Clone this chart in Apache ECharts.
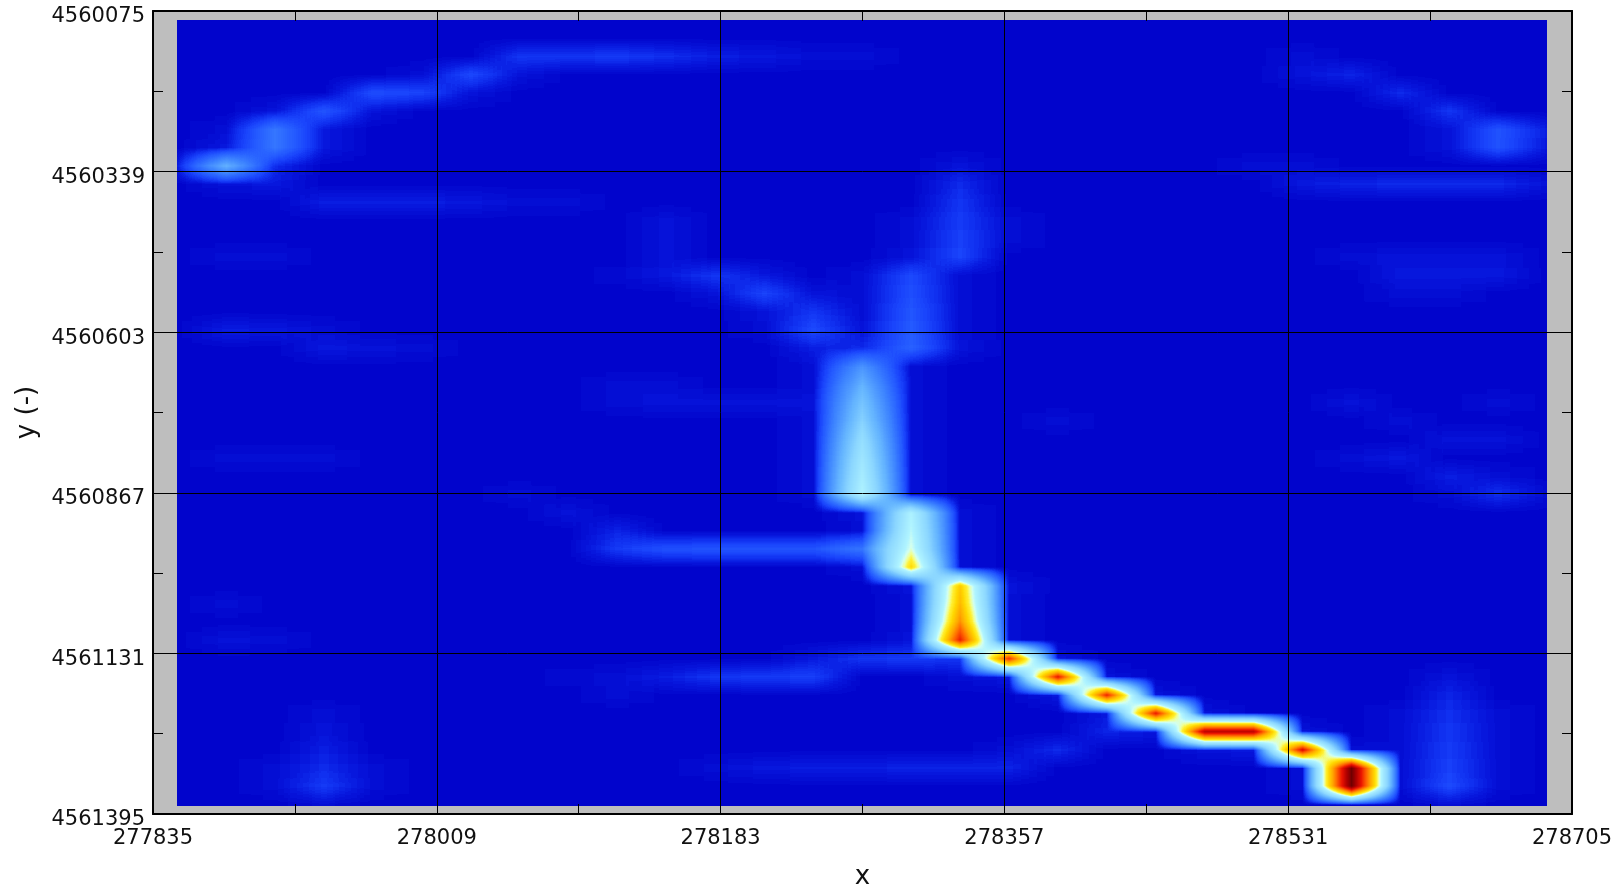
<!DOCTYPE html>
<html><head><meta charset="utf-8">
<style>
html,body{margin:0;padding:0;background:#fff;width:1620px;height:887px;overflow:hidden}
#panel{position:absolute;left:153px;top:11px;width:1419px;height:803px;background:#bebebe}
#main{position:absolute;left:0;top:0;width:1620px;height:887px}
#main canvas[data-zr-dom-id="zr_0"]{background:#000;filter:url(#heat);clip-path:inset(20px 73px 81px 177px)}
</style>
<script src="https://cdn.jsdelivr.net/npm/echarts@6/dist/echarts.min.js"></script>
</head><body>
<svg width="0" height="0" style="position:absolute"><defs>
<filter id="heat" x="0" y="0" width="100%" height="100%" color-interpolation-filters="sRGB">
<feConvolveMatrix id="boxX" order="49,1" preserveAlpha="true" edgeMode="duplicate"/>
<feConvolveMatrix id="boxY" order="1,19" preserveAlpha="true" edgeMode="duplicate"/>
<feComponentTransfer><feFuncR id="fr" type="table"/><feFuncG id="fg" type="table"/><feFuncB id="fb" type="table"/></feComponentTransfer>
</filter></defs></svg>
<div id="panel"></div><div id="main"></div>
<script>
const xNodes=[277850,277880,277910,277940,277970,278000,278030,278060,278090,278120,278150,278180,278210,278240,278270,278300,278330,278360,278390,278420,278450,278480,278510,278540,278570,278600,278630,278660,278690];
const yNodes=[4560090,4560120,4560150,4560180,4560210,4560240,4560270,4560300,4560330,4560360,4560390,4560420,4560450,4560480,4560510,4560540,4560570,4560600,4560630,4560660,4560690,4560720,4560750,4560780,4560810,4560840,4560870,4560900,4560930,4560960,4560990,4561020,4561050,4561080,4561110,4561140,4561170,4561200,4561230,4561260,4561290,4561320,4561350,4561380];
const backgroundLevel=0.2;
// [column, row, level]
const arcLeft=[[0,8,2.5],[1,8,20],[2,8,3],[1,7,2],[1,9,1.5],[2,7,10.5],[2,6,10.5],[1,6,1.2],[3,6,2],[3,7,2],[3,5,6.6],[2,5,1.5],[4,4,5.8],[4,5,1.5],[5,4,5],[6,3,5.4],[6,4,1.5],[5,3,1.2],[7,2,4.1],[7,3,1.5],[8,2,4.1],[9,2,4.4],[10,2,3.5],[11,2,2.5],[12,2,2],[13,2,1.2],[14,2,1],[2,9,2],[3,10,2.2],[4,10,2.2],[5,10,2.2],[6,10,2],[7,10,1.2],[8,10,1]];
const arcRight=[[23,2,1],[23,3,1.5],[24,3,2.8],[25,4,3.1],[26,5,3.8],[27,6,6.2],[27,7,6.2],[26,6,1.5],[26,7,1.5],[28,6,2.2],[28,7,2],[22,8,1],[23,8,1.2],[23,9,2],[24,9,2.8],[25,9,3.1],[26,9,3.1],[27,9,3.1],[28,9,1.5],[24,13,1.2],[25,13,1.5],[26,13,1.5],[27,13,1.5],[25,14,2],[26,14,2],[27,14,2],[25,15,1.2],[26,15,1.2]];
const faintLeft=[[1,13,1.2],[2,13,1],[1,17,2.2],[2,17,1.8],[3,17,1],[3,18,2],[4,18,1.6],[5,18,1],[1,24,1.2],[2,24,1.2],[3,24,1],[1,32,1.2],[1,34,1.5],[2,34,1.2],[3,38,1],[3,39,1.5],[3,40,2.2],[3,41,3.1],[3,42,4.4],[2,42,1.2],[4,42,1.2],[3,43,1],[2,41,1],[4,41,1]];
const faintRight=[[24,21,1.5],[25,22,1.2],[26,23,1.5],[27,23,1.5],[27,21,1.2],[24,24,1.2],[25,24,2],[26,25,2.2],[26,26,1.2],[27,26,3.5],[28,26,1],[27,25,1.2],[26,36,1.5],[26,37,2.8],[26,38,3.5],[26,39,4.1],[26,40,4.4],[26,41,4.7],[26,42,5.4],[26,43,1],[25,38,1.2],[25,39,1.2],[25,40,1.2],[25,41,1.2],[25,42,1.2],[27,38,1],[27,39,1.2],[27,40,1.2],[27,41,1.2],[27,42,1.2]];
const branchCentre=[[16,8,1.5],[16,9,3.1],[16,10,4.1],[16,11,4.4],[16,12,4.7],[16,13,5],[15,13,1.5],[15,12,1.2],[15,11,1.2],[17,11,1],[17,12,1],[15,14,5.4],[15,15,5.8],[15,16,6.6],[15,17,7],[15,18,7.8],[14,14,1],[14,15,1.2],[14,16,1.2],[14,17,1.5],[14,18,3.1],[16,14,1.2],[16,15,1.2],[16,16,1.2],[16,17,1.2],[16,18,1.5]];
const branchLeft=[[10,11,1.5],[10,12,1.5],[10,13,1.5],[9,14,0.6],[10,14,1.8],[11,14,3.8],[12,14,2],[11,15,1.5],[12,15,5],[13,15,1.5],[13,16,4.1],[13,17,5.4],[12,16,1.5],[13,18,2.2],[12,17,1.2]];
const trunk=[[14,19,15],[14,20,20],[14,21,24],[14,22,27],[14,23,31],[14,24,34],[14,25,37],[14,26,40],[13,19,1.2],[13,20,1.2],[13,21,1.5],[13,22,1.2],[13,23,1.2],[13,24,1.2],[13,25,1.2],[13,26,1.2],[15,19,1.2],[15,20,1.2],[15,21,1.2],[15,22,1.2],[15,23,1.2],[15,24,1.2],[15,25,1.2],[15,26,1.2],[14,27,1.5],[15,27,39],[15,28,41],[15,29,44],[15,30,54],[14,28,1.2],[14,30,1.2],[16,27,1.2],[16,28,1.2],[16,29,1.2],[16,30,1.2],[15,31,1.5],[15,32,1.2],[15,33,1.2],[15,34,1.5],[16,31,56],[16,32,59],[16,33,65],[16,34,80],[17,31,1.5],[17,32,1.2],[17,33,1.2],[17,34,1.2]];
const hotChain=[[17,35,78],[18,36,82],[19,37,80],[20,38,82],[21,39,90],[22,39,90],[23,40,85],[24,41,100],[24,42,100],[18,35,1.5],[16,36,1.2],[17,36,2],[19,36,1.5],[18,37,2],[20,37,1.5],[19,38,2],[21,38,1.5],[20,39,2],[23,39,1.5],[21,40,1.5],[22,40,2],[24,40,1.2],[23,41,1.2],[25,41,1.2],[25,42,1.2],[23,42,1.2]];
const sideLines=[[7,26,1],[8,27,1.6],[9,28,2.8],[9,29,4.4],[10,29,6.2],[11,29,6.6],[12,29,6.6],[13,29,6.6],[14,29,10.5],[8,36,0.6],[9,36,1],[10,36,2.5],[11,36,4],[12,36,4.4],[13,36,4.6],[13,35,2],[14,35,4.1],[15,35,4.4],[16,35,4.1],[11,41,1.2],[12,41,2],[13,41,2.2],[14,41,2.5],[15,41,2.8],[16,41,2.8],[17,41,2.8],[17,40,1.2],[18,40,3.1],[19,39,2.8],[9,20,1.2],[10,20,1.2],[9,21,1],[10,21,1.5],[11,21,1.5],[12,21,1.5],[13,21,1.5],[15,20,1.2],[18,22,1],[9,37,1.2]];
const xTickMin=277835,xTickMax=278705,xTickStep=174;
const yTickMin=4560075,yTickMax=4561395,yTickStep=264;
// colour ramp: level -> rgb
const rampLevels=[0,2,3.5,5,7,12,20,28,40,43,46,49,54,62,70,80,90,100];
const rampColors=[[0,0,200],[8,24,222],[16,48,240],[26,68,252],[36,90,255],[60,130,255],[100,180,255],[140,215,255],[176,244,255],[210,255,240],[240,255,150],[255,240,50],[255,215,0],[255,165,0],[255,100,0],[235,20,0],[175,0,0],[110,0,0]];

const tables=[[],[],[]];
for(let g=0;g<=255;g++){const t=g/255*100;let i=0;while(i<rampLevels.length-2&&t>rampLevels[i+1])i++;
  const f=(t-rampLevels[i])/(rampLevels[i+1]-rampLevels[i]);
  for(let c=0;c<3;c++)tables[c].push(((rampColors[i][c]+(rampColors[i+1][c]-rampColors[i][c])*f)/255).toFixed(4));}
['fr','fg','fb'].forEach((id,c)=>document.getElementById(id).setAttribute('tableValues',tables[c].join(' ')));
document.getElementById('boxX').setAttribute('kernelMatrix',new Array(49).fill(1).join(' '));
document.getElementById('boxX').setAttribute('divisor','49');
document.getElementById('boxY').setAttribute('kernelMatrix',new Array(19).fill(1).join(' '));
document.getElementById('boxY').setAttribute('divisor','19');

const matrix=yNodes.map(()=>xNodes.map(()=>backgroundLevel));
[arcLeft,arcRight,faintLeft,faintRight,branchCentre,branchLeft,trunk,hotChain,sideLines].forEach(g=>g.forEach(([c,r,v])=>{matrix[r][c]=Math.max(matrix[r][c],v)}));
const heat=[];matrix.forEach((row,r)=>row.forEach((v,c)=>heat.push([c,r,Math.min(v,100)])));

const font='"DejaVu Sans"';
const labelBase={fontFamily:font,fontSize:21,color:'#111'};
const lineStyle={color:'#000',width:1};
const chart=echarts.init(document.getElementById('main'),null,{renderer:'canvas'});
chart.setOption({
 animation:false,
 grid:{left:153,top:11,width:1419,height:803,show:false,outerBoundsMode:'none',containLabel:false},
 visualMap:{show:false,min:0,max:100,seriesIndex:0,inRange:{color:['#000000','#ffffff']}},
 xAxis:[
  {type:'category',data:xNodes,show:false,boundaryGap:true},
  {type:'value',position:'bottom',min:xTickMin,max:xTickMax,interval:xTickStep,zlevel:1,
   name:'x',nameLocation:'middle',nameGap:50,nameTextStyle:{fontFamily:font,fontSize:26,color:'#111'},
   axisLine:{show:true,lineStyle:{color:'#000',width:2}},
   axisTick:{show:true,inside:true,length:10,lineStyle:{color:'#000',width:1}},
   minorTick:{show:true,splitNumber:2,length:10,lineStyle:{color:'#000',width:1}},
   splitLine:{show:true,lineStyle:lineStyle},minorSplitLine:{show:false},
   axisLabel:Object.assign({},labelBase,{margin:14,showMinLabel:true,showMaxLabel:true,hideOverlap:false,formatter:v=>String(v)})},
  {type:'value',position:'top',min:xTickMin,max:xTickMax,interval:xTickStep,zlevel:1,
   axisLine:{show:true,lineStyle:{color:'#000',width:2}},
   axisTick:{show:true,inside:true,length:10,lineStyle:{color:'#000',width:1}},
   minorTick:{show:true,splitNumber:2,length:10,lineStyle:{color:'#000',width:1}},
   splitLine:{show:false},axisLabel:{show:false}}
 ],
 yAxis:[
  {type:'category',data:yNodes,show:false,inverse:true,boundaryGap:true},
  {type:'value',position:'left',inverse:true,min:yTickMin,max:yTickMax,interval:yTickStep,zlevel:1,
   name:'y (-)',nameLocation:'middle',nameGap:112,nameRotate:90,nameTextStyle:{fontFamily:font,fontSize:26,color:'#111'},
   axisLine:{show:true,lineStyle:{color:'#000',width:2}},
   axisTick:{show:true,inside:true,length:10,lineStyle:{color:'#000',width:1}},
   minorTick:{show:true,splitNumber:2,length:10,lineStyle:{color:'#000',width:1}},
   splitLine:{show:true,lineStyle:lineStyle},minorSplitLine:{show:false},
   axisLabel:Object.assign({},labelBase,{margin:8,align:'right',verticalAlign:'top',lineHeight:12,showMinLabel:true,showMaxLabel:true,hideOverlap:false,formatter:v=>String(v)})},
  {type:'value',position:'right',inverse:true,min:yTickMin,max:yTickMax,interval:yTickStep,zlevel:1,
   axisLine:{show:true,lineStyle:{color:'#000',width:2}},
   axisTick:{show:true,inside:true,length:10,lineStyle:{color:'#000',width:1}},
   minorTick:{show:true,splitNumber:2,length:10,lineStyle:{color:'#000',width:1}},
   splitLine:{show:false},axisLabel:{show:false}}
 ],
 series:[{type:'heatmap',xAxisIndex:0,yAxisIndex:0,data:heat,progressive:0,zlevel:0,itemStyle:{borderWidth:0},emphasis:{disabled:true}}]
});
</script>
</body></html>
